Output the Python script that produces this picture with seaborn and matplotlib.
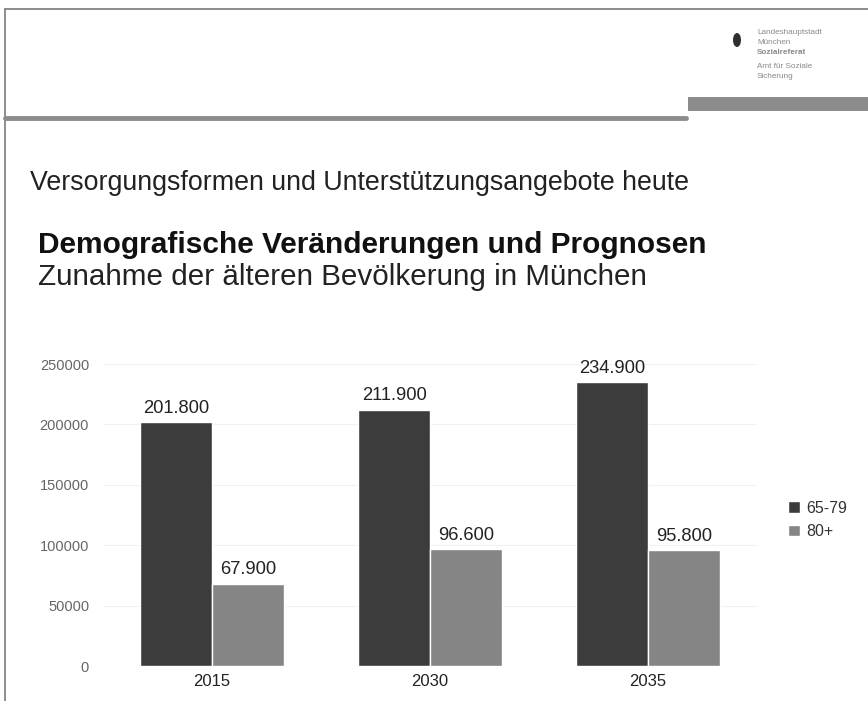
import matplotlib
matplotlib.use("Agg")
import matplotlib.pyplot as plt
import seaborn as sns
import pandas as pd
from matplotlib.lines import Line2D
from matplotlib.patches import Rectangle, Ellipse

years = ["2015", "2030", "2035"]
series_names = ["65-79", "80+"]
values_65_79 = [201800, 211900, 234900]
values_80 = [67900, 96600, 95800]
y_ticks = [0, 50000, 100000, 150000, 200000, 250000]

df = pd.DataFrame({
    "Jahr": years * 2,
    "Gruppe": [series_names[0]] * 3 + [series_names[1]] * 3,
    "Wert": values_65_79 + values_80,
})

sns.set_theme(style="white")
plt.rcParams["font.family"] = ["Liberation Sans", "DejaVu Sans"]

W, H = 868, 701
fig = plt.figure(figsize=(W / 100, H / 100), dpi=100)
fig.patch.set_facecolor("white")

def fx(px):
    return px / W

def fy(py):
    return 1 - py / H

# slide frame / decorative lines
fig.add_artist(Line2D([fx(5), fx(5)], [fy(9), 0], color="#7a7a7a", lw=1.2))
fig.add_artist(Line2D([fx(5), 1], [fy(9), fy(9)], color="#7a7a7a", lw=1.2))
fig.add_artist(Line2D([fx(5), fx(686)], [fy(118), fy(118)], color="#8c8c8c", lw=3.5))
fig.add_artist(Rectangle((fx(688), fy(111)), 1 - fx(688), fy(97) - fy(111),
                         facecolor="#8c8c8c", edgecolor="none"))

# logo
fig.add_artist(Ellipse((fx(737), fy(40)), fx(8), fy(32) - fy(46),
                       facecolor="#2e2e2e", edgecolor="none"))
logo_lines = [("Landeshauptstadt", "normal", 33), ("München", "normal", 42),
              ("Sozialreferat", "bold", 53), ("Amt für Soziale", "normal", 67),
              ("Sicherung", "normal", 77)]
for t, w, y in logo_lines:
    fig.text(fx(757), fy(y), t, fontsize=5.9, fontweight=w, color="#8a8a8a",
             ha="left", va="center")

# headings
fig.text(fx(30), fy(183), "Versorgungsformen und Unterstützungsangebote heute",
         fontsize=19.3, color="#222222", ha="left", va="center")
fig.text(fx(38), fy(245), "Demografische Veränderungen und Prognosen",
         fontsize=21.5, fontweight="bold", color="#111111", ha="left", va="center")
fig.text(fx(38), fy(277), "Zunahme der älteren Bevölkerung in München",
         fontsize=21.3, color="#222222", ha="left", va="center")

# chart
ax = fig.add_axes([fx(103), fy(666), fx(757) - fx(103), fy(364) - fy(666)])
palette = {series_names[0]: "#3c3c3c", series_names[1]: "#858585"}
sns.barplot(data=df, x="Jahr", y="Wert", hue="Gruppe", order=years,
            hue_order=series_names, palette=palette, width=0.66,
            saturation=1, ax=ax, legend=False)
ax.set_xlim(-0.5, 2.5)
ax.set_ylim(0, 250000)
ax.set_yticks(y_ticks)
ax.set_yticklabels([str(v) for v in y_ticks], fontsize=10.5, color="#666666")
ax.tick_params(axis="y", length=0, pad=10)
ax.tick_params(axis="x", length=0, labelsize=12, colors="#222222", pad=6)
ax.set_xlabel("")
ax.set_ylabel("")
for s in ax.spines.values():
    s.set_visible(False)
ax.yaxis.grid(True, color="#f1f1f1", lw=0.8)
ax.set_axisbelow(True)

for cont in ax.containers:
    labels = [f"{int(b.get_height()):,}".replace(",", ".") for b in cont]
    ax.bar_label(cont, labels=labels, padding=4, fontsize=13.2, color="#222222")

handles = [Rectangle((0, 0), 1, 1, facecolor=palette[n]) for n in series_names]
fig.legend(handles, series_names, loc="center left",
           bbox_to_anchor=(fx(774), fy(520)), frameon=False, fontsize=11.5,
           handlelength=0.7, handleheight=0.7, handletextpad=0.4,
           labelspacing=0.55, labelcolor="#333333")

fig.savefig("out.png", dpi=100, facecolor="white")
